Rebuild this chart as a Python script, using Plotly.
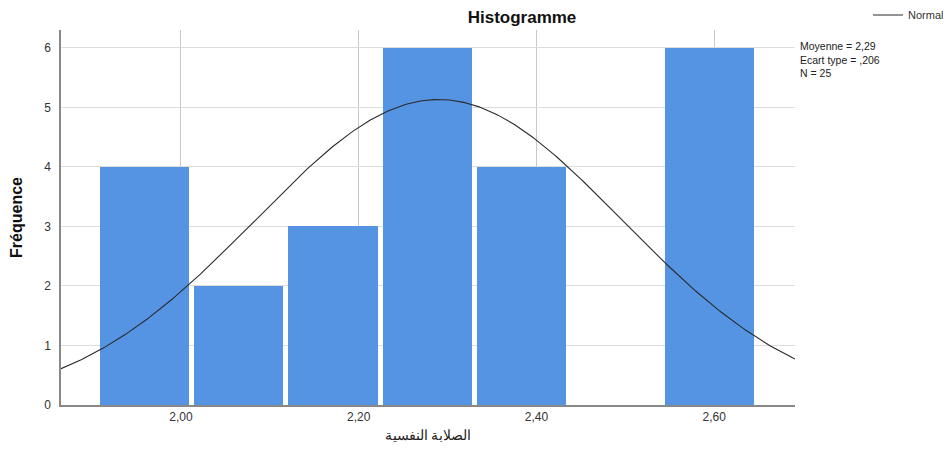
import numpy as np
import plotly.graph_objects as go

# Histogram bins (left edges) and counts
bin_width = 0.106
bin_start = [1.906, 2.012, 2.118, 2.224, 2.330, 2.436, 2.542]
counts = [4, 2, 3, 6, 4, 0, 6]

# Summary statistics shown on the chart
mean = 2.29
sd = 0.206
n = 25

x_ticks = [2.00, 2.20, 2.40, 2.60]
x_tick_labels = ["2,00", "2,20", "2,40", "2,60"]
y_ticks = [0, 1, 2, 3, 4, 5, 6]

x_min, x_max = 1.865, 2.691

centers = [s + bin_width / 2 for s in bin_start]

# fitted normal curve (scaled to frequencies)
xc = np.linspace(x_min, x_max, 300)
yc = n * bin_width / (sd * np.sqrt(2 * np.pi)) * np.exp(-0.5 * ((xc - mean) / sd) ** 2)

# page body has an 8px margin; compensate so the plot lands where it should
OFF = 8

fig = go.Figure()
fig.add_trace(go.Bar(
    x=centers, y=counts, width=bin_width * 0.947,
    marker=dict(color="#5594e3", line=dict(width=0)),
    showlegend=False, hoverinfo="x+y",
))
fig.add_trace(go.Scatter(
    x=xc, y=yc, mode="lines", name="Normal",
    line=dict(color="#2a2a2a", width=1.1),
))

fig.update_layout(
    width=951, height=450,
    margin=dict(l=61 - OFF, r=156 + OFF, t=30 - OFF, b=45 + OFF, autoexpand=False),
    paper_bgcolor="white", plot_bgcolor="white",
    font=dict(family="Liberation Sans, Arial, sans-serif", size=11, color="#333333"),
    title=dict(text="<b>Histogramme</b>", x=(522 - OFF) / 951, xanchor="center",
               y=1 - (17 - OFF) / 450, yanchor="middle", font=dict(size=17, color="#111111")),
    bargap=0,
    legend=dict(xref="container", yref="container", x=860 / 951, y=1 - (15 - OFF) / 450,
                xanchor="left", yanchor="middle",
                bgcolor="rgba(0,0,0,0)", font=dict(size=11, color="#333333"),
                itemwidth=30),
    showlegend=True,
    xaxis=dict(range=[x_min, x_max], tickvals=x_ticks, ticktext=x_tick_labels,
               showgrid=True, gridcolor="#c8c8c8", gridwidth=1,
               showline=True, linecolor="#888888", linewidth=1.5,
               ticks="", zeroline=False, automargin=False,
               title=dict(text="الصلابة النفسية", font=dict(size=14, color="#222222"), standoff=7),
               tickfont=dict(size=12, color="#333333")),
    yaxis=dict(range=[0, 6.3], tickvals=y_ticks,
               showgrid=True, gridcolor="#dcdcdc", gridwidth=1,
               showline=True, linecolor="#888888", linewidth=1.5,
               ticks="", zeroline=False, automargin=False, ticklabelstandoff=6,
               title=dict(text="<b>Fréquence</b>", font=dict(size=16, color="#111111"), standoff=18),
               tickfont=dict(size=12, color="#333333")),
)

stat_lines = [
    f"Moyenne = {mean:.2f}".replace(".", ","),
    "Ecart type = ," + f"{sd:.3f}".split(".")[1],
    f"N = {n}",
]
fig.add_annotation(
    x=1.004, y=(405 - 60) / 375, xref="paper", yref="paper",
    xanchor="left", yanchor="middle", showarrow=False, align="left",
    text="<br>".join(stat_lines), font=dict(size=10.5, color="#222222"),
)

fig.write_html("out.html")
